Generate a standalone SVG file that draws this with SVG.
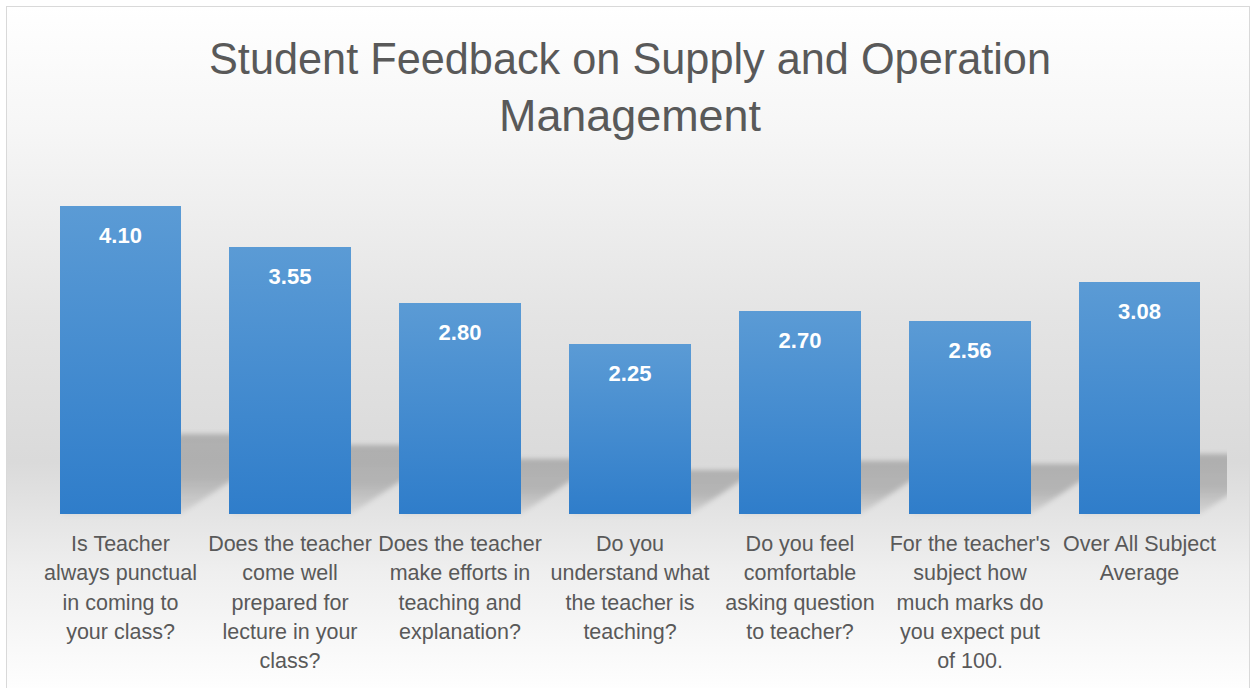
<svg xmlns="http://www.w3.org/2000/svg" width="1252" height="688" viewBox="0 0 1252 688">
<defs>
<linearGradient id="bg" x1="0" y1="0" x2="0" y2="1">
<stop offset="0" stop-color="#ffffff"/>
<stop offset="0.18" stop-color="#f6f6f6"/>
<stop offset="0.45" stop-color="#e4e4e4"/>
<stop offset="0.66" stop-color="#dadada"/>
<stop offset="0.82" stop-color="#efefef"/>
<stop offset="1" stop-color="#ffffff"/>
</linearGradient>
<linearGradient id="barg" x1="0" y1="0" x2="0" y2="1">
<stop offset="0" stop-color="#5b9bd5"/>
<stop offset="1" stop-color="#2f7dca"/>
</linearGradient>
<linearGradient id="shg" x1="0" y1="0" x2="0" y2="1">
<stop offset="0" stop-color="#000000" stop-opacity="0.2"/>
<stop offset="0.55" stop-color="#000000" stop-opacity="0.19"/>
<stop offset="1" stop-color="#000000" stop-opacity="0.06"/>
</linearGradient>
<filter id="blur" x="-20%" y="-30%" width="140%" height="160%">
<feGaussianBlur stdDeviation="2.5"/>
</filter>
<clipPath id="plot"><rect x="0" y="0" width="1227" height="688"/></clipPath>
<style>
.title{font-family:"Liberation Sans",Arial,sans-serif;font-size:44px;fill:#595959;text-anchor:middle}
.cat{font-family:"Liberation Sans",Arial,sans-serif;font-size:21.5px;fill:#595959;text-anchor:middle}
.val{font-family:"Liberation Sans",Arial,sans-serif;font-size:22px;font-weight:bold;fill:#ffffff;text-anchor:middle}
.bar{fill:url(#barg)}
.sh{fill:url(#shg);filter:url(#blur)}
</style>
</defs>
<rect x="0" y="0" width="1252" height="688" fill="#ffffff"/>
<rect x="6.5" y="6.5" width="1243" height="690" fill="url(#bg)" stroke="#d9d9d9" stroke-width="1"/>
<g id="title">
<text class="title" x="630" y="74" textLength="842" lengthAdjust="spacingAndGlyphs">Student Feedback on Supply and Operation</text>
<text class="title" x="630" y="131" textLength="262" lengthAdjust="spacingAndGlyphs">Management</text>
</g>
<g id="shadows" clip-path="url(#plot)">
<polygon class="sh" points="60,514 181,514 301,434 180,434"/>
<polygon class="sh" points="229,514 351,514 455,445 333,445"/>
<polygon class="sh" points="399,514 521,514 603,459 481,459"/>
<polygon class="sh" points="569,514 691,514 757,470 635,470"/>
<polygon class="sh" points="739,514 861,514 940,461 818,461"/>
<polygon class="sh" points="909,514 1031,514 1106,464 984,464"/>
<polygon class="sh" points="1079,514 1200,514 1290,454 1169,454"/>
</g>
<g id="bar1"><rect class="bar" x="60" y="206" width="121" height="308"/><text class="val" x="120.5" y="243">4.10</text>
<text class="cat" x="120.5"><tspan x="120.5" y="551">Is Teacher</tspan><tspan x="120.5" y="580">always punctual</tspan><tspan x="120.5" y="610">in coming to</tspan><tspan x="120.5" y="639">your class?</tspan></text></g>
<g id="bar2"><rect class="bar" x="229" y="247" width="122" height="267"/><text class="val" x="290" y="284">3.55</text>
<text class="cat" x="290"><tspan x="290" y="551">Does the teacher</tspan><tspan x="290" y="580">come well</tspan><tspan x="290" y="610">prepared for</tspan><tspan x="290" y="639">lecture in your</tspan><tspan x="290" y="668">class?</tspan></text></g>
<g id="bar3"><rect class="bar" x="399" y="303" width="122" height="211"/><text class="val" x="460" y="340">2.80</text>
<text class="cat" x="460"><tspan x="460" y="551">Does the teacher</tspan><tspan x="460" y="580">make efforts in</tspan><tspan x="460" y="610">teaching and</tspan><tspan x="460" y="639">explanation?</tspan></text></g>
<g id="bar4"><rect class="bar" x="569" y="344" width="122" height="170"/><text class="val" x="630" y="381">2.25</text>
<text class="cat" x="630"><tspan x="630" y="551">Do you</tspan><tspan x="630" y="580">understand what</tspan><tspan x="630" y="610">the teacher is</tspan><tspan x="630" y="639">teaching?</tspan></text></g>
<g id="bar5"><rect class="bar" x="739" y="311" width="122" height="203"/><text class="val" x="800" y="348">2.70</text>
<text class="cat" x="800"><tspan x="800" y="551">Do you feel</tspan><tspan x="800" y="580">comfortable</tspan><tspan x="800" y="610">asking question</tspan><tspan x="800" y="639">to teacher?</tspan></text></g>
<g id="bar6"><rect class="bar" x="909" y="321" width="122" height="193"/><text class="val" x="970" y="358">2.56</text>
<text class="cat" x="970"><tspan x="970" y="551">For the teacher's</tspan><tspan x="970" y="580">subject how</tspan><tspan x="970" y="610">much marks do</tspan><tspan x="970" y="639">you expect put</tspan><tspan x="970" y="668">of 100.</tspan></text></g>
<g id="bar7"><rect class="bar" x="1079" y="282" width="121" height="232"/><text class="val" x="1139.5" y="319">3.08</text>
<text class="cat" x="1139.5"><tspan x="1139.5" y="551">Over All Subject</tspan><tspan x="1139.5" y="580">Average</tspan></text></g>
<g id="connectors"/>
</svg>
